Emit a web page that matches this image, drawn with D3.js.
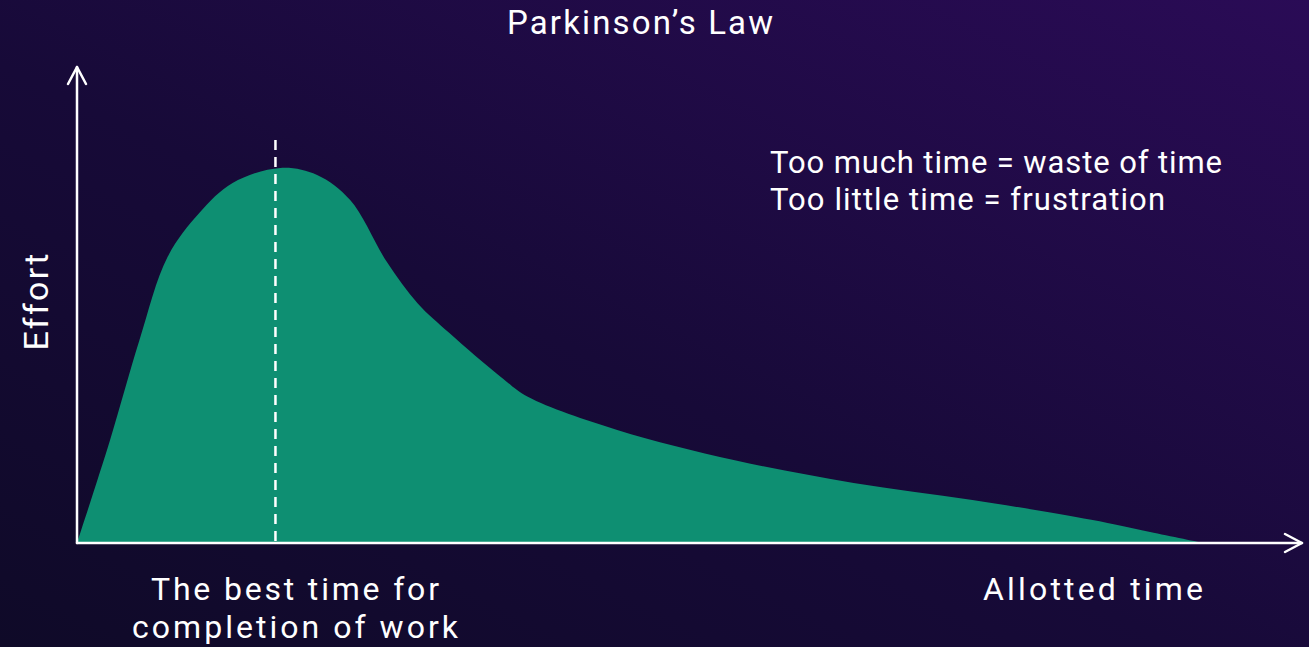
<!DOCTYPE html>
<html>
<head>
<meta charset="utf-8">
<script src="https://cdn.jsdelivr.net/npm/d3@7"></script>
<style>
  html, body { margin: 0; padding: 0; background: #150a30; overflow: hidden; }
  svg { display: block; }
  text { font-family: Roboto, "Open Sans", sans-serif; fill: #ffffff; }
</style>
</head>
<body>
<svg id="chart" width="1309" height="647"></svg>
<script>
// ---- data ----
const allottedTime = [0, 2.7, 5.1, 7.4, 10.0, 12.7, 16.6, 19.6, 22.3, 25.3, 27.8, 30.4, 34.6, 36.8, 44.1, 53.7, 63.4, 73.1, 82.8, 87.6, 91.9];
const effort       = [0, 21.8, 42.9, 60.5, 69.8, 76.1, 79.3, 77.8, 72.5, 59.4, 50.7, 44.4, 35.1, 30.9, 23.9, 17.5, 12.7, 9.1, 4.9, 2.3, 0];
const bestTime = [16.2];
const titleText = ["Parkinson’s Law"];
const noteLines = ["Too much time = waste of time", "Too little time = frustration"];
const xLabel = ["Allotted time"];
const yLabel = ["Effort"];
const bestLabel = ["The best time for", "completion of work"];

const W = 1309, H = 647;
const svg = d3.select("#chart");

// background gradient
const defs = svg.append("defs");
const grad = defs.append("linearGradient").attr("id", "bg")
  .attr("x1", "0%").attr("y1", "100%").attr("x2", "100%").attr("y2", "0%");
grad.append("stop").attr("offset", "0%").attr("stop-color", "#0f0a28");
grad.append("stop").attr("offset", "45%").attr("stop-color", "#170a38");
grad.append("stop").attr("offset", "100%").attr("stop-color", "#2a0b56");
svg.append("rect").attr("width", W).attr("height", H).attr("fill", "url(#bg)");

// scales
const x = d3.scaleLinear().domain([0, 100]).range([77, 1302]);
const y = d3.scaleLinear().domain([0, 100]).range([543, 70]);

const pts = allottedTime.map((t, i) => ({ t, e: effort[i] }));

const area = d3.area()
  .x(d => x(d.t))
  .y0(y(0))
  .y1(d => y(d.e))
  .curve(d3.curveCatmullRom.alpha(0.5));

svg.append("path").datum(pts)
  .attr("d", area)
  .attr("fill", "#0e8f72");

// dashed best-time line
svg.selectAll(".best").data(bestTime).enter().append("line")
  .attr("x1", d => x(d)).attr("x2", d => x(d))
  .attr("y1", 140).attr("y2", y(0))
  .attr("stroke", "#ffffff").attr("stroke-width", 2.5)
  .attr("stroke-dasharray", "10,7");

// axes
const axisG = svg.append("g").attr("stroke", "#ffffff").attr("stroke-width", 2.5)
  .attr("fill", "none").attr("stroke-linecap", "round").attr("stroke-linejoin", "round");
const ox = x(0), oy = y(0);
const xEnd = 1302, yEnd = 67;
axisG.append("line").attr("x1", ox).attr("y1", oy).attr("x2", xEnd).attr("y2", oy);
axisG.append("line").attr("x1", ox).attr("y1", oy).attr("x2", ox).attr("y2", yEnd);
axisG.append("path").attr("d", d3.line()([[xEnd - 17, oy - 9], [xEnd, oy], [xEnd - 17, oy + 9]]));
axisG.append("path").attr("d", d3.line()([[ox - 9, yEnd + 17], [ox, yEnd], [ox + 9, yEnd + 17]]));

// texts
svg.append("text").text(titleText[0])
  .attr("x", 640).attr("y", 34).attr("text-anchor", "middle")
  .attr("font-size", 33)
  .attr("textLength", 266).attr("lengthAdjust", "spacing");

const noteLen = [452, 395];
svg.append("text")
  .attr("font-size", 31)
  .selectAll("tspan").data(noteLines).enter().append("tspan")
  .text(d => d)
  .attr("x", 770).attr("y", (d, i) => 173 + i * 37)
  .attr("textLength", (d, i) => noteLen[i]).attr("lengthAdjust", "spacing");

svg.append("text").text(xLabel[0])
  .attr("x", 983).attr("y", 600)
  .attr("font-size", 32)
  .attr("textLength", 220).attr("lengthAdjust", "spacing");

const bestLen = [288, 326];
svg.append("text")
  .attr("font-size", 32)
  .attr("text-anchor", "middle")
  .selectAll("tspan").data(bestLabel).enter().append("tspan")
  .text(d => d)
  .attr("x", 295).attr("y", (d, i) => 600 + i * 38)
  .attr("textLength", (d, i) => bestLen[i]).attr("lengthAdjust", "spacing");

svg.append("text").text(yLabel[0])
  .attr("transform", "translate(48,302) rotate(-90)")
  .attr("text-anchor", "middle")
  .attr("font-size", 34)
  .attr("textLength", 97).attr("lengthAdjust", "spacing");
</script>
</body>
</html>
